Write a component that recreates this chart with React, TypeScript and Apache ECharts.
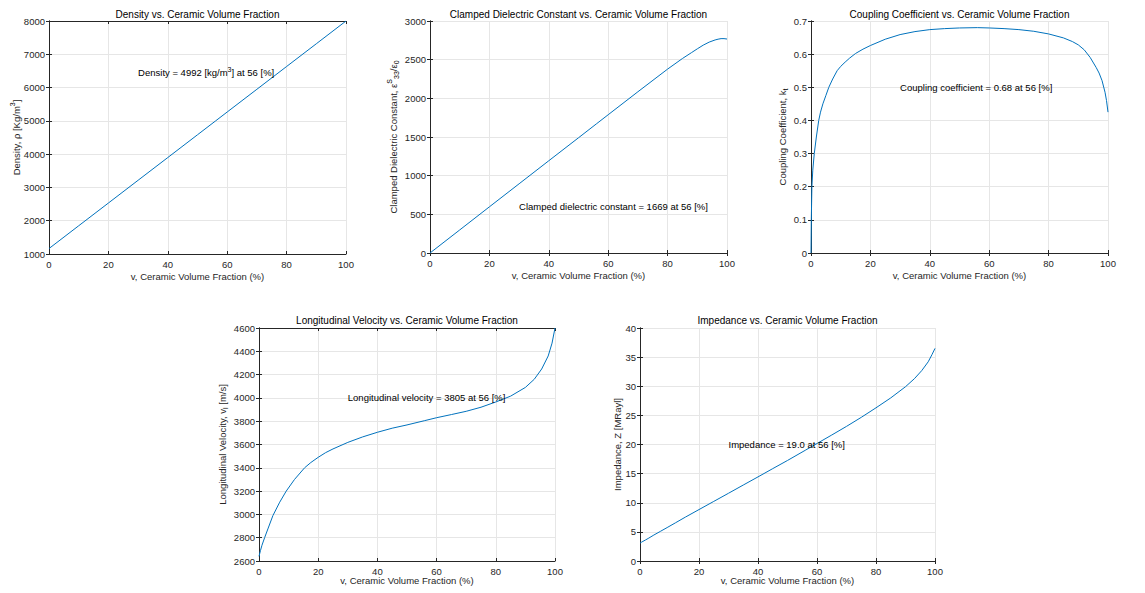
import React, { useEffect, useRef } from "react";
import * as echarts from "echarts";

// ---------- data ----------
const volumeMin = 0;
const volumeMax = 100;
const volumeInterval = 20;

const densityX = [0, 10, 20, 30, 40, 50, 56, 60, 70, 80, 90, 100];
const densityY = [1164, 1848, 2531, 3215, 3898, 4582, 4992, 5266, 5949, 6633, 7316, 8000];

const dielectricX = [0, 10, 20, 30, 40, 50, 56, 60, 70, 80, 85, 88, 90, 92, 94, 96, 97, 98, 99, 100];
const dielectricY = [0, 298, 597, 895, 1193, 1490, 1669, 1788, 2085, 2378, 2515, 2590, 2640, 2688, 2727, 2755, 2765, 2772, 2772, 2767];

const couplingX = [0, 0.1, 0.3, 0.6, 1.1, 1.8, 2.6, 3.2, 4, 5, 6, 7.3, 8.8, 10, 11.5, 13, 15, 17.5, 20, 25, 30, 35, 40, 45, 50, 56, 60, 65, 70, 75, 80, 85, 88, 90, 92, 94, 96, 97, 98, 99, 99.5, 100];
const couplingY = [0, 0.1, 0.2, 0.25, 0.3, 0.35, 0.4, 0.425, 0.45, 0.475, 0.5, 0.525, 0.55, 0.563, 0.576, 0.588, 0.602, 0.615, 0.626, 0.645, 0.659, 0.668, 0.674, 0.677, 0.679, 0.68, 0.679, 0.677, 0.674, 0.669, 0.661, 0.649, 0.638, 0.628, 0.613, 0.59, 0.56, 0.543, 0.52, 0.485, 0.46, 0.425];

const velocityX = [0, 0.5, 1, 1.9, 3, 4.7, 6, 7, 9.2, 12, 15.4, 17.5, 20, 22.5, 25, 30, 35, 40, 45, 50, 56, 60, 65, 70, 75, 80, 85, 90, 93, 95.5, 97.7, 99, 100];
const velocityY = [2640, 2690, 2735, 2800, 2875, 2990, 3055, 3105, 3200, 3300, 3400, 3445, 3490, 3530, 3562, 3618, 3665, 3705, 3740, 3768, 3805, 3830, 3857, 3885, 3920, 3965, 4015, 4090, 4160, 4248, 4360, 4470, 4600];

const impedanceX = [0, 0.5, 1, 1.9, 3, 4.7, 7, 9.2, 12, 15.4, 20, 25, 30, 35, 40, 45, 50, 56, 60, 65, 70, 75, 80, 85, 90, 93, 95.5, 97.7, 99, 100];
const impedanceY = [3.07, 3.22, 3.37, 3.62, 3.94, 4.46, 5.11, 5.74, 6.55, 7.54, 8.83, 10.23, 11.63, 13.04, 14.44, 15.86, 17.26, 19.0, 20.17, 21.63, 23.11, 24.66, 26.3, 28.0, 29.92, 31.29, 32.68, 34.2, 35.46, 36.5];

const titles = [
  "Density vs. Ceramic Volume Fraction",
  "Clamped Dielectric Constant vs. Ceramic Volume Fraction",
  "Coupling Coefficient vs. Ceramic Volume Fraction",
  "Longitudinal Velocity vs. Ceramic Volume Fraction",
  "Impedance vs. Ceramic Volume Fraction",
];
const xName = "v, Ceramic Volume Fraction (%)";
const yNames = [
  "Density, ρ [Kg/m{sup|3}]",
  "Clamped Dielectric Constant, ε{sup|S}{sub|33}/ε{sub|0}",
  "Coupling Coefficient, k{sub|t}",
  "Longitudinal Velocity, v{sub|l} [m/s]",
  "Impedance, Z [MRayl]",
];
const yMins = [1000, 0, 0, 2600, 0];
const yMaxs = [8000, 3000, 0.7, 4600, 40];
const yIntervals = [1000, 500, 0.1, 200, 5];

const annotationTexts = [
  "Density = 4992 [kg/m{sup|3}] at 56 [%]",
  "Clamped dielectric constant = 1669 at 56 [%]",
  "Coupling coefficient = 0.68 at 56 [%]",
  "Longitudinal velocity = 3805 at 56 [%]",
  "Impedance = 19.0 at 56 [%]",
];
const annotationX = [30, 30, 30, 30, 30];
const annotationY = [6450, 600, 0.5, 4000, 20];

// ---------- layout / style ----------
const layouts = [
  { left: 49, top: 21, width: 297, height: 233, yGap: 26, xGap: 17, titleTop: 9 },
  { left: 430, top: 21, width: 297, height: 232, yGap: 30, xGap: 17, titleTop: 9 },
  { left: 811, top: 21, width: 297, height: 232, yGap: 22, xGap: 17, titleTop: 9 },
  { left: 259, top: 328, width: 296, height: 233, yGap: 30, xGap: 14, titleTop: 315 },
  { left: 640, top: 328, width: 295, height: 233, yGap: 16, xGap: 14, titleTop: 315 },
];

const FONT = "'Liberation Sans', Arial, Helvetica, sans-serif";
const AXIS_COLOR = "#262626";
const GRID_COLOR = "#e6e6e6";
const LINE_COLOR = "#0072BD";
const TICK_FONT = 9.5;

const rich = {
  sup: { fontSize: 7, verticalAlign: "top" as const, fontFamily: FONT, color: "#000", lineHeight: 14 },
  sub: { fontSize: 7, verticalAlign: "bottom" as const, fontFamily: FONT, color: "#000", lineHeight: 14 },
};

const seriesData = [
  [densityX, densityY],
  [dielectricX, dielectricY],
  [couplingX, couplingY],
  [velocityX, velocityY],
  [impedanceX, impedanceY],
];

const plainNumber = (v: number) => String(Math.round(v * 1000) / 1000);

function buildOption() {
  const grid: any[] = [];
  const xAxis: any[] = [];
  const yAxis: any[] = [];
  const series: any[] = [];
  const title: any[] = [];

  layouts.forEach((l, i) => {
    grid.push({ left: l.left, top: l.top, width: l.width, height: l.height, containLabel: false });
    title.push({
      text: titles[i],
      left: l.left + l.width / 2,
      top: l.titleTop,
      textAlign: "center",
      padding: 0,
      textStyle: { fontSize: 10, fontWeight: "normal", color: "#000", fontFamily: FONT },
    });
    const axisLine = { show: true, lineStyle: { color: AXIS_COLOR, width: 1 } };
    const axisTick = { show: true, inside: true, length: 3, lineStyle: { color: AXIS_COLOR, width: 1 } };
    xAxis.push({
      type: "value",
      gridIndex: i,
      position: "bottom",
      min: volumeMin,
      max: volumeMax,
      interval: volumeInterval,
      axisLine,
      axisTick,
      axisLabel: { fontSize: TICK_FONT, color: AXIS_COLOR, fontFamily: FONT, margin: 5, formatter: plainNumber },
      splitLine: { show: true, lineStyle: { color: GRID_COLOR, width: 1 } },
      name: xName,
      nameLocation: "middle",
      nameGap: l.xGap,
      nameMoveOverlap: false,
      nameTextStyle: { fontSize: TICK_FONT, color: AXIS_COLOR, fontFamily: FONT },
    });
    xAxis.push({
      type: "value",
      gridIndex: i,
      position: "top",
      min: volumeMin,
      max: volumeMax,
      interval: volumeInterval,
      axisLine,
      axisTick,
      axisLabel: { show: false },
      splitLine: { show: false },
    });
    yAxis.push({
      type: "value",
      gridIndex: i,
      position: "left",
      min: yMins[i],
      max: yMaxs[i],
      interval: yIntervals[i],
      axisLine,
      axisTick,
      axisLabel: { fontSize: TICK_FONT, color: AXIS_COLOR, fontFamily: FONT, margin: 4, formatter: plainNumber },
      splitLine: { show: true, lineStyle: { color: GRID_COLOR, width: 1 } },
      name: yNames[i],
      nameLocation: "middle",
      nameGap: l.yGap,
      nameRotate: 90,
      nameMoveOverlap: false,
      nameTextStyle: { fontSize: TICK_FONT, color: AXIS_COLOR, fontFamily: FONT, lineHeight: 14, rich },
    });
    yAxis.push({
      type: "value",
      gridIndex: i,
      position: "right",
      min: yMins[i],
      max: yMaxs[i],
      interval: yIntervals[i],
      axisLine,
      axisTick,
      axisLabel: { show: false },
      splitLine: { show: false },
    });
    const [xs, ys] = seriesData[i];
    series.push({
      type: "line",
      xAxisIndex: i * 2,
      yAxisIndex: i * 2,
      data: xs.map((x, k) => [x, ys[k]]),
      showSymbol: false,
      smooth: false,
      lineStyle: { color: LINE_COLOR, width: 1 },
      itemStyle: { color: LINE_COLOR },
      markPoint: {
        silent: true,
        symbol: "circle",
        symbolSize: 0,
        data: [{ coord: [annotationX[i], annotationY[i]] }],
        label: {
          show: true,
          position: "right",
          distance: 0,
          formatter: annotationTexts[i],
          fontSize: TICK_FONT,
          color: "#000",
          fontFamily: FONT,
          lineHeight: 14,
          rich,
        },
      },
    });
  });

  return { animation: false, backgroundColor: "#fff", title, grid, xAxis, yAxis, series };
}

export default function App() {
  const ref = useRef<HTMLDivElement>(null);
  useEffect(() => {
    if (!ref.current) return;
    const chart = echarts.init(ref.current, undefined, { renderer: "svg" });
    chart.setOption(buildOption() as any);
    return () => chart.dispose();
  }, []);
  return (
    <div
      ref={ref}
      style={{ position: "fixed", left: 0, top: 0, width: 1145, height: 593, background: "#fff" }}
    />
  );
}
